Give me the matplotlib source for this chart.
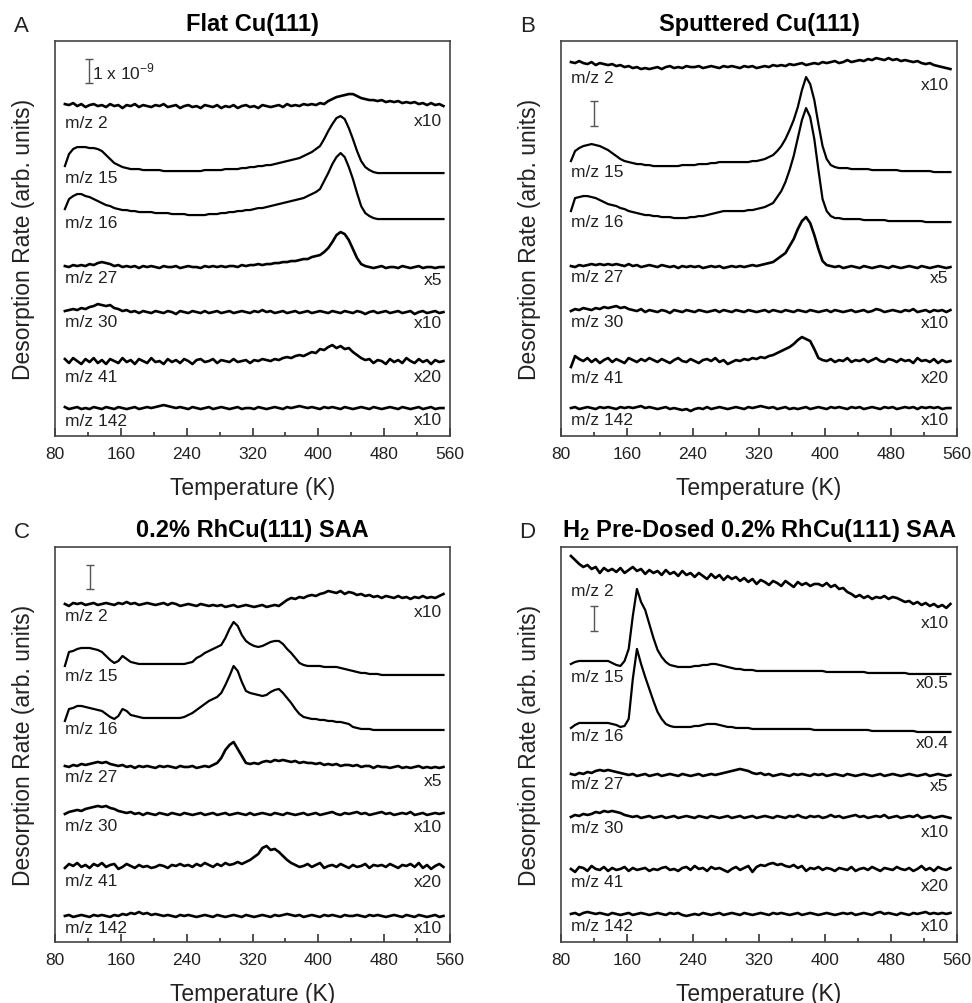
import matplotlib
matplotlib.use("Agg")
import matplotlib.pyplot as plt

plt.rcParams["font.family"] = ["Liberation Sans", "DejaVu Sans"]
plt.rcParams["mathtext.fontset"] = "custom"
plt.rcParams["mathtext.rm"] = "Liberation Sans"
plt.rcParams["mathtext.bf"] = "Liberation Sans:bold"

# -------------------------
# DATA (arb. units, 5 K steps)
# -------------------------
temperature = list(range(92, 553, 5))  # K

mass_labels = ["m/z 2", "m/z 15", "m/z 16", "m/z 27", "m/z 30", "m/z 41", "m/z 142"]
noisy = [True, False, False, True, True, True, True]

# --- A: Flat Cu(111)
flat_mz2 = [2, 1, 3, 0, 2, -1, 1, 2, 0, 1,
            -1, 2, 0, 1, -2, 1, 0, 2, -1, 1,
            0, -1, 1, 0, 2, -1, 0, 1, -2, 0,
            1, -1, 0, -2, 1, 0, -1, 1, -2, 0,
            -1, 1, -2, 0, 1, -1, 0, -2, 1, 0,
            -1, 0, 1, -1, 2, 0, 1, 0, 2, 1,
            2, 1, 3, 2, 5, 7, 9, 10, 11, 12,
            12, 10, 8, 7, 6, 6, 5, 6, 4, 5,
            4, 5, 3, 4, 3, 4, 2, 3, 1, 3,
            1, 2, 0]
flat_mz15 = [7, 19, 24, 26, 26, 26, 25, 25, 24, 22,
             18, 14, 10, 8, 6, 5, 4, 4, 4, 3,
             3, 3, 3, 3, 2, 2, 2, 2, 2, 2,
             2, 2, 2, 2, 3, 3, 3, 3, 3, 4,
             4, 4, 4, 5, 5, 6, 6, 7, 7, 8,
             8, 9, 10, 11, 12, 13, 14, 15, 17, 19,
             21, 24, 27, 34, 42, 49, 55, 57, 54, 45,
             34, 22, 12, 6, 3, 1, 0, 0, 0, 0,
             0, 0, 0, 0, 0, 0, 0, 0, 0, 0,
             0, 0, 0]
flat_mz16 = [10, 20, 23, 25, 25, 23, 22, 20, 18, 16,
             14, 13, 11, 10, 9, 9, 8, 8, 7, 7,
             7, 7, 6, 6, 6, 6, 5, 5, 5, 5,
             4, 4, 4, 4, 4, 5, 5, 5, 6, 6,
             7, 7, 8, 8, 9, 9, 10, 11, 11, 12,
             13, 14, 15, 16, 17, 18, 19, 20, 21, 23,
             25, 27, 30, 38, 46, 55, 62, 66, 62, 52,
             40, 26, 13, 6, 3, 1, 0, 0, 0, 0,
             0, 0, 0, 0, 0, 0, 0, 0, 0, 0,
             0, 0, 0]
flat_mz27 = [1, 0, 2, 1, 2, 1, 3, 2, 4, 5,
             4, 3, 1, 2, 0, 1, 0, 1, -1, 1,
             0, 1, 0, -1, 1, 0, 0, 1, -1, 0,
             1, 0, 0, -1, 1, 0, 1, 0, 1, 0,
             1, 1, 0, 2, 1, 2, 2, 3, 2, 3,
             3, 4, 4, 5, 5, 6, 6, 7, 8, 8,
             10, 11, 12, 15, 19, 25, 32, 35, 33, 27,
             18, 9, 3, 1, 0, -1, 0, 1, -1, 0,
             0, -1, 1, 0, -1, 0, 1, -1, 0, 0,
             -1, 0, 0]
flat_mz30 = [1, 2, 3, 2, 4, 3, 5, 6, 8, 7,
             6, 7, 4, 3, 1, 2, 0, 1, -1, 1,
             0, -1, 1, 0, -1, 1, 0, -2, 1, 0,
             -1, 1, 0, -1, 1, -1, 0, 1, -1, 0,
             1, -1, 0, 1, 0, -1, 1, 0, 2, 0,
             1, -1, 0, 1, -1, 0, 1, -1, 0, 1,
             -1, 0, 1, 0, -1, 1, 0, -1, 1, 0,
             -1, 1, 0, -2, 0, 1, -1, 0, 1, -1,
             0, 1, -1, 0, 1, -2, 0, 1, -1, 0,
             1, -1, 0]
flat_mz41 = [2, -2, 3, 0, -3, 2, -1, 3, -2, 1,
             -3, 2, 0, -2, 3, -1, 1, -3, 2, 0,
             -2, 3, -1, 0, -3, 2, -1, 1, -2, 2,
             0, -3, 1, 2, -1, 0, 2, -2, 1, 0,
             -1, 2, -1, 0, 1, -2, 1, 0, 2, 1,
             0, 2, 1, 3, 4, 3, 5, 6, 5, 7,
             9, 8, 12, 11, 14, 16, 13, 15, 12, 13,
             9, 6, 3, 1, 2, -2, 1, 0, -3, 2,
             -1, 1, -2, 3, 0, -2, 2, -1, 1, -3,
             1, -1, 0]
flat_mz142 = [1, -1, 0, 1, -1, 0, -1, 1, 0, -1,
              1, 0, -1, 1, 0, -1, 0, 1, -1, 0,
              1, 0, 1, 2, 3, 2, 1, 0, 1, 0,
              -1, 1, 0, -1, 0, 1, -1, 0, 1, 0,
              -1, 0, 1, -1, 0, 0, -1, 1, 0, -1,
              0, 1, 0, -1, 1, 0, 1, 2, 1, 0,
              1, 0, -1, 1, 0, 1, 0, -1, 1, 0,
              -1, 0, 1, 0, -1, 1, 0, -1, 0, 1,
              0, -1, 1, 0, -1, 0, 1, -1, 0, 1,
              -1, 0, 0]
flat_offsets = [330, 263, 217, 169, 124, 75, 28]
flat_factors = ["x10", "", "", "x5", "x10", "x20", "x10"]

# --- B: Sputtered Cu(111)
sput_mz2 = [4, 3, 5, 3, 2, 4, 1, 3, 2, 1,
            2, 0, 1, -1, 0, -2, -1, -3, -2, -3,
            -2, -1, -3, -1, 0, -2, -1, -2, 0, -1,
            -1, 0, -2, -1, 0, -1, -2, 0, -1, 0,
            -1, -2, 0, -1, 0, -2, -1, 0, -1, 1,
            0, 1, 0, 2, 1, 2, 3, 1, 2, 3,
            2, 4, 3, 4, 5, 3, 4, 6, 4, 5,
            6, 5, 7, 6, 8, 7, 6, 8, 6, 7,
            5, 6, 5, 4, 5, 3, 2, 3, 1, 0,
            -1, -2, -3]
sput_mz15 = [11, 21, 24, 26, 27, 28, 27, 26, 24, 22,
             19, 16, 13, 11, 10, 9, 8, 8, 7, 7,
             6, 6, 6, 6, 6, 6, 6, 7, 7, 7,
             7, 8, 8, 8, 9, 9, 10, 10, 10, 10,
             10, 10, 10, 10, 11, 11, 12, 13, 15, 17,
             21, 26, 33, 42, 52, 65, 82, 95, 88, 72,
             48, 26, 13, 7, 5, 4, 4, 4, 3, 3,
             3, 3, 3, 2, 2, 2, 2, 2, 2, 2,
             1, 1, 1, 1, 1, 1, 1, 1, 0, 0,
             0, 0, 0]
sput_mz16 = [11, 24, 25, 26, 26, 25, 24, 22, 20, 18,
             17, 16, 14, 13, 11, 10, 9, 8, 7, 7,
             6, 6, 5, 5, 5, 4, 4, 4, 4, 5,
             5, 6, 6, 7, 8, 9, 10, 11, 11, 11,
             11, 11, 11, 12, 12, 13, 14, 15, 17, 19,
             25, 31, 40, 52, 66, 84, 102, 114, 105, 83,
             52, 23, 11, 6, 4, 4, 3, 3, 3, 3,
             3, 2, 2, 2, 2, 2, 2, 1, 1, 1,
             1, 1, 1, 1, 1, 1, 0, 0, 0, 0,
             0, 0, 0]
sput_mz27 = [1, 0, 2, 1, 2, 3, 2, 3, 2, 3,
             2, 3, 2, 1, 3, 1, 2, 0, 1, 2,
             1, 0, 2, 1, 0, 1, -1, 1, 0, 1,
             0, 1, -1, 0, 1, 0, 1, -1, 0, 1,
             0, 1, 0, 1, 2, 1, 2, 3, 4, 5,
             8, 11, 14, 21, 28, 38, 46, 50, 44, 32,
             18, 6, 2, 1, 0, 1, -1, 0, 1, 0,
             -1, 1, 0, -1, 0, 1, 0, -1, 1, 0,
             -1, 0, 1, 0, -1, 1, 0, -1, 0, 1,
             0, -1, 0]
sput_mz30 = [0, 2, 1, 3, 2, 1, 3, 2, 4, 3,
             4, 5, 3, 4, 2, 1, 0, 2, -1, 1,
             0, -1, 1, 0, -2, 1, 0, -1, 1, 0,
             -1, 1, 0, -1, 0, 1, -1, 1, 0, -1,
             1, 0, -1, 1, 0, -1, 0, 1, -1, 1,
             0, -1, 1, 0, -1, 1, 0, -1, 1, 0,
             -1, 0, 1, -1, 1, 0, -1, 0, 1, -1,
             0, 1, -1, 0, 2, 1, -1, 0, 1, 0,
             -1, 1, 0, 2, -1, 0, 1, -1, 1, 0,
             1, -1, 1]
sput_mz41 = [-6, 5, 2, 0, 3, -1, 2, -2, 1, 3,
             -1, 2, 0, -2, 3, 1, -1, 2, 0, 3,
             1, -1, 2, 0, -2, 1, 3, 0, -1, 2,
             0, -2, 1, 2, 0, 3, -1, 1, -3, -1,
             1, 0, 2, 1, 3, 2, 4, 3, 5, 6,
             8, 10, 12, 14, 17, 21, 24, 22, 20, 12,
             3, 1, 0, 2, -1, 1, 0, 3, -1, 1,
             0, 2, -1, 1, 3, 0, -1, 2, 1, -1,
             2, 0, 1, -2, 3, 0, 1, -1, 2, -2,
             1, -1, 0]
sput_mz142 = [0, 1, -1, 0, 1, 0, -1, 1, 0, 1,
              0, -1, 1, 0, 1, 0, 1, 2, 0, 1,
              0, -1, 0, 1, -1, 0, -1, -2, -1, -3,
              -1, 0, -1, 1, -1, 0, 1, 0, -1, 0,
              1, 0, -1, 1, 0, 1, 2, 1, 0, 1,
              -1, 0, 1, -1, 0, -1, 0, 1, -1, 0,
              1, 0, -1, 1, 0, 1, 0, -1, 1, 0,
              1, -1, 0, 1, 0, -1, 1, 0, 1, -1,
              0, 1, 0, 1, -1, 1, 0, 1, 0, 1,
              -1, 0, 0]
sput_offsets = [370, 264, 214, 169, 125, 75, 28]
sput_factors = ["x10", "", "", "x5", "x10", "x20", "x10"]

# --- C: 0.2% RhCu(111) SAA
saa_mz2 = [0, -2, 1, 0, 1, -1, 0, 1, -1, 0,
           1, 0, -1, 1, 0, 2, 0, 1, -1, 0,
           1, 0, -1, 0, 1, -1, 1, 0, -2, -1,
           0, -1, -2, 0, -1, -2, -1, -2, -1, -3,
           -2, -1, -3, -2, -1, -2, -3, -2, -1, -3,
           -2, -1, -2, 1, 4, 6, 5, 7, 6, 8,
           9, 8, 10, 11, 13, 12, 11, 13, 10, 12,
           11, 9, 10, 8, 9, 7, 8, 6, 8, 7,
           6, 8, 6, 7, 5, 7, 6, 8, 6, 7,
           6, 8, 10]
saa_mz15 = [9, 23, 24, 26, 27, 27, 27, 26, 25, 23,
            19, 15, 12, 14, 19, 16, 13, 12, 11, 11,
            11, 11, 11, 11, 11, 11, 11, 11, 11, 11,
            12, 13, 17, 19, 22, 24, 26, 28, 30, 37,
            46, 53, 49, 40, 34, 31, 29, 28, 29, 31,
            33, 34, 34, 31, 26, 22, 17, 12, 10, 9,
            9, 9, 9, 8, 8, 8, 8, 7, 6, 5,
            4, 3, 2, 2, 1, 1, 1, 0, 0, 0,
            0, 0, 0, 0, 0, 0, 0, 0, 0, 0,
            0, 0, 0]
saa_mz16 = [9, 21, 22, 24, 24, 23, 22, 21, 20, 19,
            16, 13, 11, 14, 21, 19, 15, 14, 13, 12,
            12, 12, 12, 12, 12, 12, 12, 12, 12, 13,
            15, 17, 20, 23, 26, 29, 31, 33, 37, 45,
            54, 64, 59, 48, 39, 37, 36, 35, 34, 35,
            38, 40, 41, 37, 32, 27, 21, 16, 13, 12,
            11, 11, 10, 10, 9, 9, 8, 8, 7, 6,
            3, 2, 1, 1, 1, 0, 0, 0, 0, 0,
            0, 0, 0, 0, 0, 0, 0, 0, 0, 0,
            0, 0, 0]
saa_mz27 = [1, 0, 2, 1, 3, 2, 3, 4, 5, 4,
            5, 3, 2, 1, 2, 0, 1, -1, 1, 0,
            1, 0, -1, 1, 0, 1, 0, -1, 1, 0,
            0, 1, -1, 0, 1, 0, 2, 4, 9, 17,
            22, 25, 18, 11, 4, 3, 4, 3, 5, 6,
            5, 7, 6, 7, 6, 5, 6, 4, 5, 4,
            4, 3, 4, 2, 3, 2, 3, 1, 2, 2,
            1, 2, 0, 1, 1, -1, 1, 0, 0, -1,
            0, 1, -1, 0, -1, 0, 1, -1, 0, -1,
            0, -1, 0]
saa_mz30 = [0, 2, 3, 4, 3, 5, 6, 7, 8, 7,
            8, 6, 5, 3, 2, 1, 2, 0, 1, -1,
            1, 0, -1, 1, 0, -1, 1, 0, -1, 1,
            0, -1, 0, 1, -1, 0, 1, -1, 0, 1,
            -1, 0, 1, 0, -1, 1, -1, 0, 1, 0,
            -1, 1, 0, -1, 1, 0, -1, 0, 1, -1,
            0, 1, -1, 0, 1, 2, 0, -1, 1, 0,
            1, 2, 0, 1, -1, 0, 1, 2, 0, 1,
            -1, 0, 1, 0, 2, -1, 0, 1, -1, 0,
            1, 0, 1]
saa_mz41 = [-2, 2, 0, 3, -1, 1, -2, 2, 0, 3,
            -1, 1, 2, -3, -1, 2, 0, -2, 1, -1,
            0, -2, -1, 1, 0, -2, 1, 0, 2, 0,
            1, -1, 2, 0, 3, 1, -1, 2, 0, 3,
            1, 2, 4, 2, 4, 6, 9, 12, 18, 20,
            16, 17, 14, 10, 6, 3, 1, -1, 0, 2,
            -1, 1, 3, -2, 0, 1, -1, 2, 0, -2,
            1, -1, 0, 2, -2, 1, 0, 1, -1, 2,
            0, -2, 1, 0, 2, -1, 3, -2, 1, -3,
            0, 2, -1]
saa_mz142 = [0, 1, -1, 0, 1, 0, -1, 1, 0, 1,
             0, -1, 1, 0, 2, 1, 3, 2, 4, 2,
             3, 1, 2, 1, 0, 1, 0, -1, 1, 0,
             1, 0, -1, 0, 1, 0, -1, 1, 0, -1,
             0, 1, 0, -1, 1, 0, -1, 0, 1, 0,
             -1, 1, 0, 1, 2, 1, 0, 1, -1, 0,
             1, 0, -1, 1, 0, 1, 0, -1, 1, 0,
             0, 1, 0, -1, 1, 0, 1, 0, -1, 0,
             1, 0, -1, 1, 0, -1, 1, 0, -1, 0,
             1, -1, 0]
saa_offsets = [338, 267, 212, 175, 128, 76, 26]
saa_factors = ["x10", "", "", "x5", "x10", "x20", "x10"]

# --- D: H2 pre-dosed 0.2% RhCu(111) SAA
h2_mz2 = [50, 46, 42, 39, 41, 37, 39, 33, 38, 35,
          37, 34, 38, 33, 36, 39, 35, 37, 32, 36,
          33, 35, 31, 36, 32, 34, 30, 35, 31, 33,
          29, 33, 30, 27, 32, 28, 31, 26, 30, 27,
          29, 25, 28, 24, 27, 22, 26, 24, 21, 25,
          23, 20, 25, 22, 19, 24, 21, 23, 20, 22,
          22, 20, 23, 19, 21, 17, 18, 14, 12, 9,
          11, 8, 10, 7, 9, 8, 10, 7, 9, 8,
          6, 4, 5, 2, 4, 1, 3, 0, 2, -1,
          1, -2, 2]
h2_mz15 = [10, 12, 13, 13, 13, 13, 13, 13, 13, 13,
           11, 9, 8, 13, 25, 58, 85, 72, 64, 50,
           36, 24, 17, 12, 9, 8, 7, 7, 7, 7,
           8, 8, 9, 9, 10, 10, 9, 8, 7, 6,
           5, 5, 4, 4, 4, 3, 3, 3, 3, 3,
           3, 3, 3, 3, 3, 3, 3, 3, 3, 3,
           3, 3, 2, 2, 2, 2, 2, 2, 2, 2,
           2, 2, 1, 1, 1, 1, 1, 1, 1, 1,
           1, 1, 0, 0, 0, 0, 0, 0, 0, 0,
           0, 0, 0]
h2_mz16 = [4, 7, 9, 9, 9, 9, 9, 9, 9, 9,
           8, 7, 5, 6, 13, 53, 83, 68, 55, 43,
           31, 20, 13, 8, 6, 5, 5, 5, 5, 5,
           6, 6, 7, 8, 8, 8, 7, 6, 5, 5,
           4, 4, 4, 4, 3, 3, 3, 3, 3, 3,
           3, 3, 3, 3, 3, 3, 3, 3, 3, 2,
           2, 2, 2, 2, 2, 2, 2, 2, 2, 2,
           2, 2, 2, 1, 1, 1, 1, 1, 1, 1,
           1, 1, 1, 1, 0, 0, 0, 0, 0, 0,
           0, 0, 0]
h2_mz27 = [1, 0, 2, 1, 3, 2, 4, 5, 4, 5,
           4, 3, 2, 1, 0, 1, -1, 0, 1, -1,
           0, 1, -1, 0, 1, 0, -1, 1, 0, -1,
           0, 1, -1, 0, 1, 0, 1, 2, 3, 4,
           5, 6, 5, 4, 2, 1, 2, 0, 1, -1,
           0, 1, 0, -1, 1, 0, 1, 0, -1, 1,
           0, 1, -1, 0, 1, 0, -1, 1, 0, -1,
           0, 1, 0, -1, 0, 1, -1, 0, 1, 0,
           -1, 0, 1, 0, -1, 0, 1, -1, 0, 1,
           0, -1, 0]
h2_mz30 = [0, 2, 1, 3, 2, 3, 5, 4, 6, 5,
           6, 5, 4, 2, 1, 0, 1, -1, 0, 1,
           -1, 0, 1, -1, 0, 1, -1, 0, 1, 0,
           -1, 1, 0, -1, 1, 0, -1, 0, 1, -1,
           0, 1, -1, 0, 1, -1, 0, 1, 0, -1,
           1, 0, -1, 1, 0, 2, 0, -1, 1, 0,
           1, -1, 0, 2, 0, 1, -1, 0, 1, 2,
           0, 1, -1, 0, 1, 0, 2, -1, 0, 1,
           -1, 0, 1, 0, 2, -1, 0, 1, -1, 0,
           1, 0, -1]
h2_mz41 = [0, -3, 2, 1, -2, 3, 0, -1, 2, -2,
           1, -1, 0, 2, -2, 1, -1, 0, 1, -2,
           0, -1, 1, 2, -1, 0, -2, 1, 2, -1,
           3, 0, 1, -2, 2, 0, 1, -1, -3, 0,
           2, -1, 1, 3, -3, 2, 4, 3, 5, 6,
           4, 5, 3, 2, 4, 1, 3, -2, 1, 0,
           2, -1, 1, 0, -2, 1, 0, -1, 2, -2,
           0, 1, -1, 2, 0, -2, 1, 0, -1, 2,
           0, -1, 1, -2, 0, 3, -1, 1, -2, 2,
           0, -1, 1]
h2_mz142 = [0, 1, -1, 1, 2, 1, 0, 1, 0, -1,
            1, 0, -1, 0, 1, -1, 0, 1, 0, -1,
            0, 1, 0, -1, 1, 0, 1, -1, -2, -1,
            0, -1, 1, 0, -1, 0, 1, -1, 0, 1,
            0, -1, 1, 0, -1, 0, 1, 0, -1, 1,
            0, 1, 0, -1, 0, 1, -1, 0, 1, 0,
            -1, 0, 1, 0, -1, 0, 1, 0, 1, -1,
            0, 1, 0, -1, 1, 2, 0, 1, 0, -1,
            1, 0, -1, 1, 0, 1, 2, 0, 1, 0,
            1, 0, 1]
h2_offsets = [336, 268, 210, 167, 125, 73, 28]
h2_factors = ["x10", "x0.5", "x0.4", "x5", "x10", "x20", "x10"]

# -------------------------
# LAYOUT
# -------------------------
panels = [
    {"letter": "A", "title": "Flat Cu(111)",
     "traces": [flat_mz2, flat_mz15, flat_mz16, flat_mz27, flat_mz30, flat_mz41, flat_mz142],
     "offsets": flat_offsets, "factors": flat_factors,
     "rect": [0.0566, 0.5647, 0.4064, 0.3934],
     "left_y": [314, 259, 214, 159, 115, 60, 16],
     "right_y": [316, 0, 0, 157, 114, 60, 17],
     "bar": (121, 353, 377), "bar_text": True},
    {"letter": "B", "title": "Sputtered Cu(111)",
     "traces": [sput_mz2, sput_mz15, sput_mz16, sput_mz27, sput_mz30, sput_mz41, sput_mz142],
     "offsets": sput_offsets, "factors": sput_factors,
     "rect": [0.5772, 0.5647, 0.4074, 0.3934],
     "left_y": [359, 265, 215, 160, 115, 59, 17],
     "right_y": [352, 0, 0, 159, 114, 59, 17],
     "bar": (120, 310, 335), "bar_text": False},
    {"letter": "C", "title": "0.2% RhCu(111) SAA",
     "traces": [saa_mz2, saa_mz15, saa_mz16, saa_mz27, saa_mz30, saa_mz41, saa_mz142],
     "offsets": saa_offsets, "factors": saa_factors,
     "rect": [0.0566, 0.0608, 0.4064, 0.3934],
     "left_y": [326, 266, 213, 165, 116, 61, 14],
     "right_y": [330, 0, 0, 161, 115, 60, 14],
     "bar": (122, 353, 377), "bar_text": False},
    {"letter": "D", "title": r"$\mathbf{H_2}$ Pre-Dosed 0.2% RhCu(111) SAA",
     "traces": [h2_mz2, h2_mz15, h2_mz16, h2_mz27, h2_mz30, h2_mz41, h2_mz142],
     "offsets": h2_offsets, "factors": h2_factors,
     "rect": [0.5772, 0.0608, 0.4074, 0.3934],
     "left_y": [351, 265, 206, 158, 114, 60, 16],
     "right_y": [319, 259, 199, 156, 110, 56, 16],
     "bar": (120, 311, 336), "bar_text": False},
]

# -------------------------
# PLOT
# -------------------------
fig = plt.figure(figsize=(9.72, 10.04), dpi=100)
text_color = "#222222"

for p in panels:
    ax = fig.add_axes(p["rect"])
    for trace, off, is_noisy in zip(p["traces"], p["offsets"], noisy):
        assert len(trace) == len(temperature)
        ax.plot(temperature, [v + off for v in trace], color="black",
                lw=1.9 if is_noisy else 1.6, solid_joinstyle="round")

    for label, factor, ly, ry in zip(mass_labels, p["factors"], p["left_y"], p["right_y"]):
        ax.text(92, ly, label, ha="left", va="center", fontsize=12.5, color=text_color)
        if factor:
            ax.text(550, ry, factor, ha="right", va="center", fontsize=12.5, color=text_color)

    # 1e-9 scale bar
    bx, by0, by1 = p["bar"]
    ax.errorbar(bx, (by0 + by1) / 2, yerr=(by1 - by0) / 2, fmt="none",
                ecolor="#555555", elinewidth=1.0, capsize=3, capthick=1.0)
    if p["bar_text"]:
        ax.text(bx + 4, (by0 + by1) / 2, r"1 x 10$^{-9}$", ha="left", va="center",
                fontsize=12.5, color=text_color)

    ax.set_xlim(80, 560)
    ax.set_ylim(0, 395)
    ax.set_xticks(range(80, 561, 80))
    ax.set_xticks(range(120, 560, 80), minor=True)
    ax.set_yticks([])
    ax.tick_params(axis="x", which="major", direction="in", length=6, width=1.2,
                   labelsize=12.5, pad=7, colors="#333333", labelcolor=text_color)
    ax.tick_params(axis="x", which="minor", direction="in", length=3, width=1.2,
                   colors="#333333")
    for s in ax.spines.values():
        s.set_color("#444444")
        s.set_linewidth(1.2)

    ax.set_xlabel("Temperature (K)", fontsize=16.5, labelpad=11, color=text_color)
    ax.set_ylabel("Desorption Rate (arb. units)", fontsize=16.5, color=text_color)
    ax.yaxis.set_label_coords(-0.05, 0.5)
    ax.set_title(p["title"], fontsize=17, fontweight="bold", pad=8)
    ax.text(-0.085, 1.025, p["letter"], transform=ax.transAxes, fontsize=16,
            ha="center", va="baseline", color=text_color)

fig.savefig("out.png", dpi=100)
